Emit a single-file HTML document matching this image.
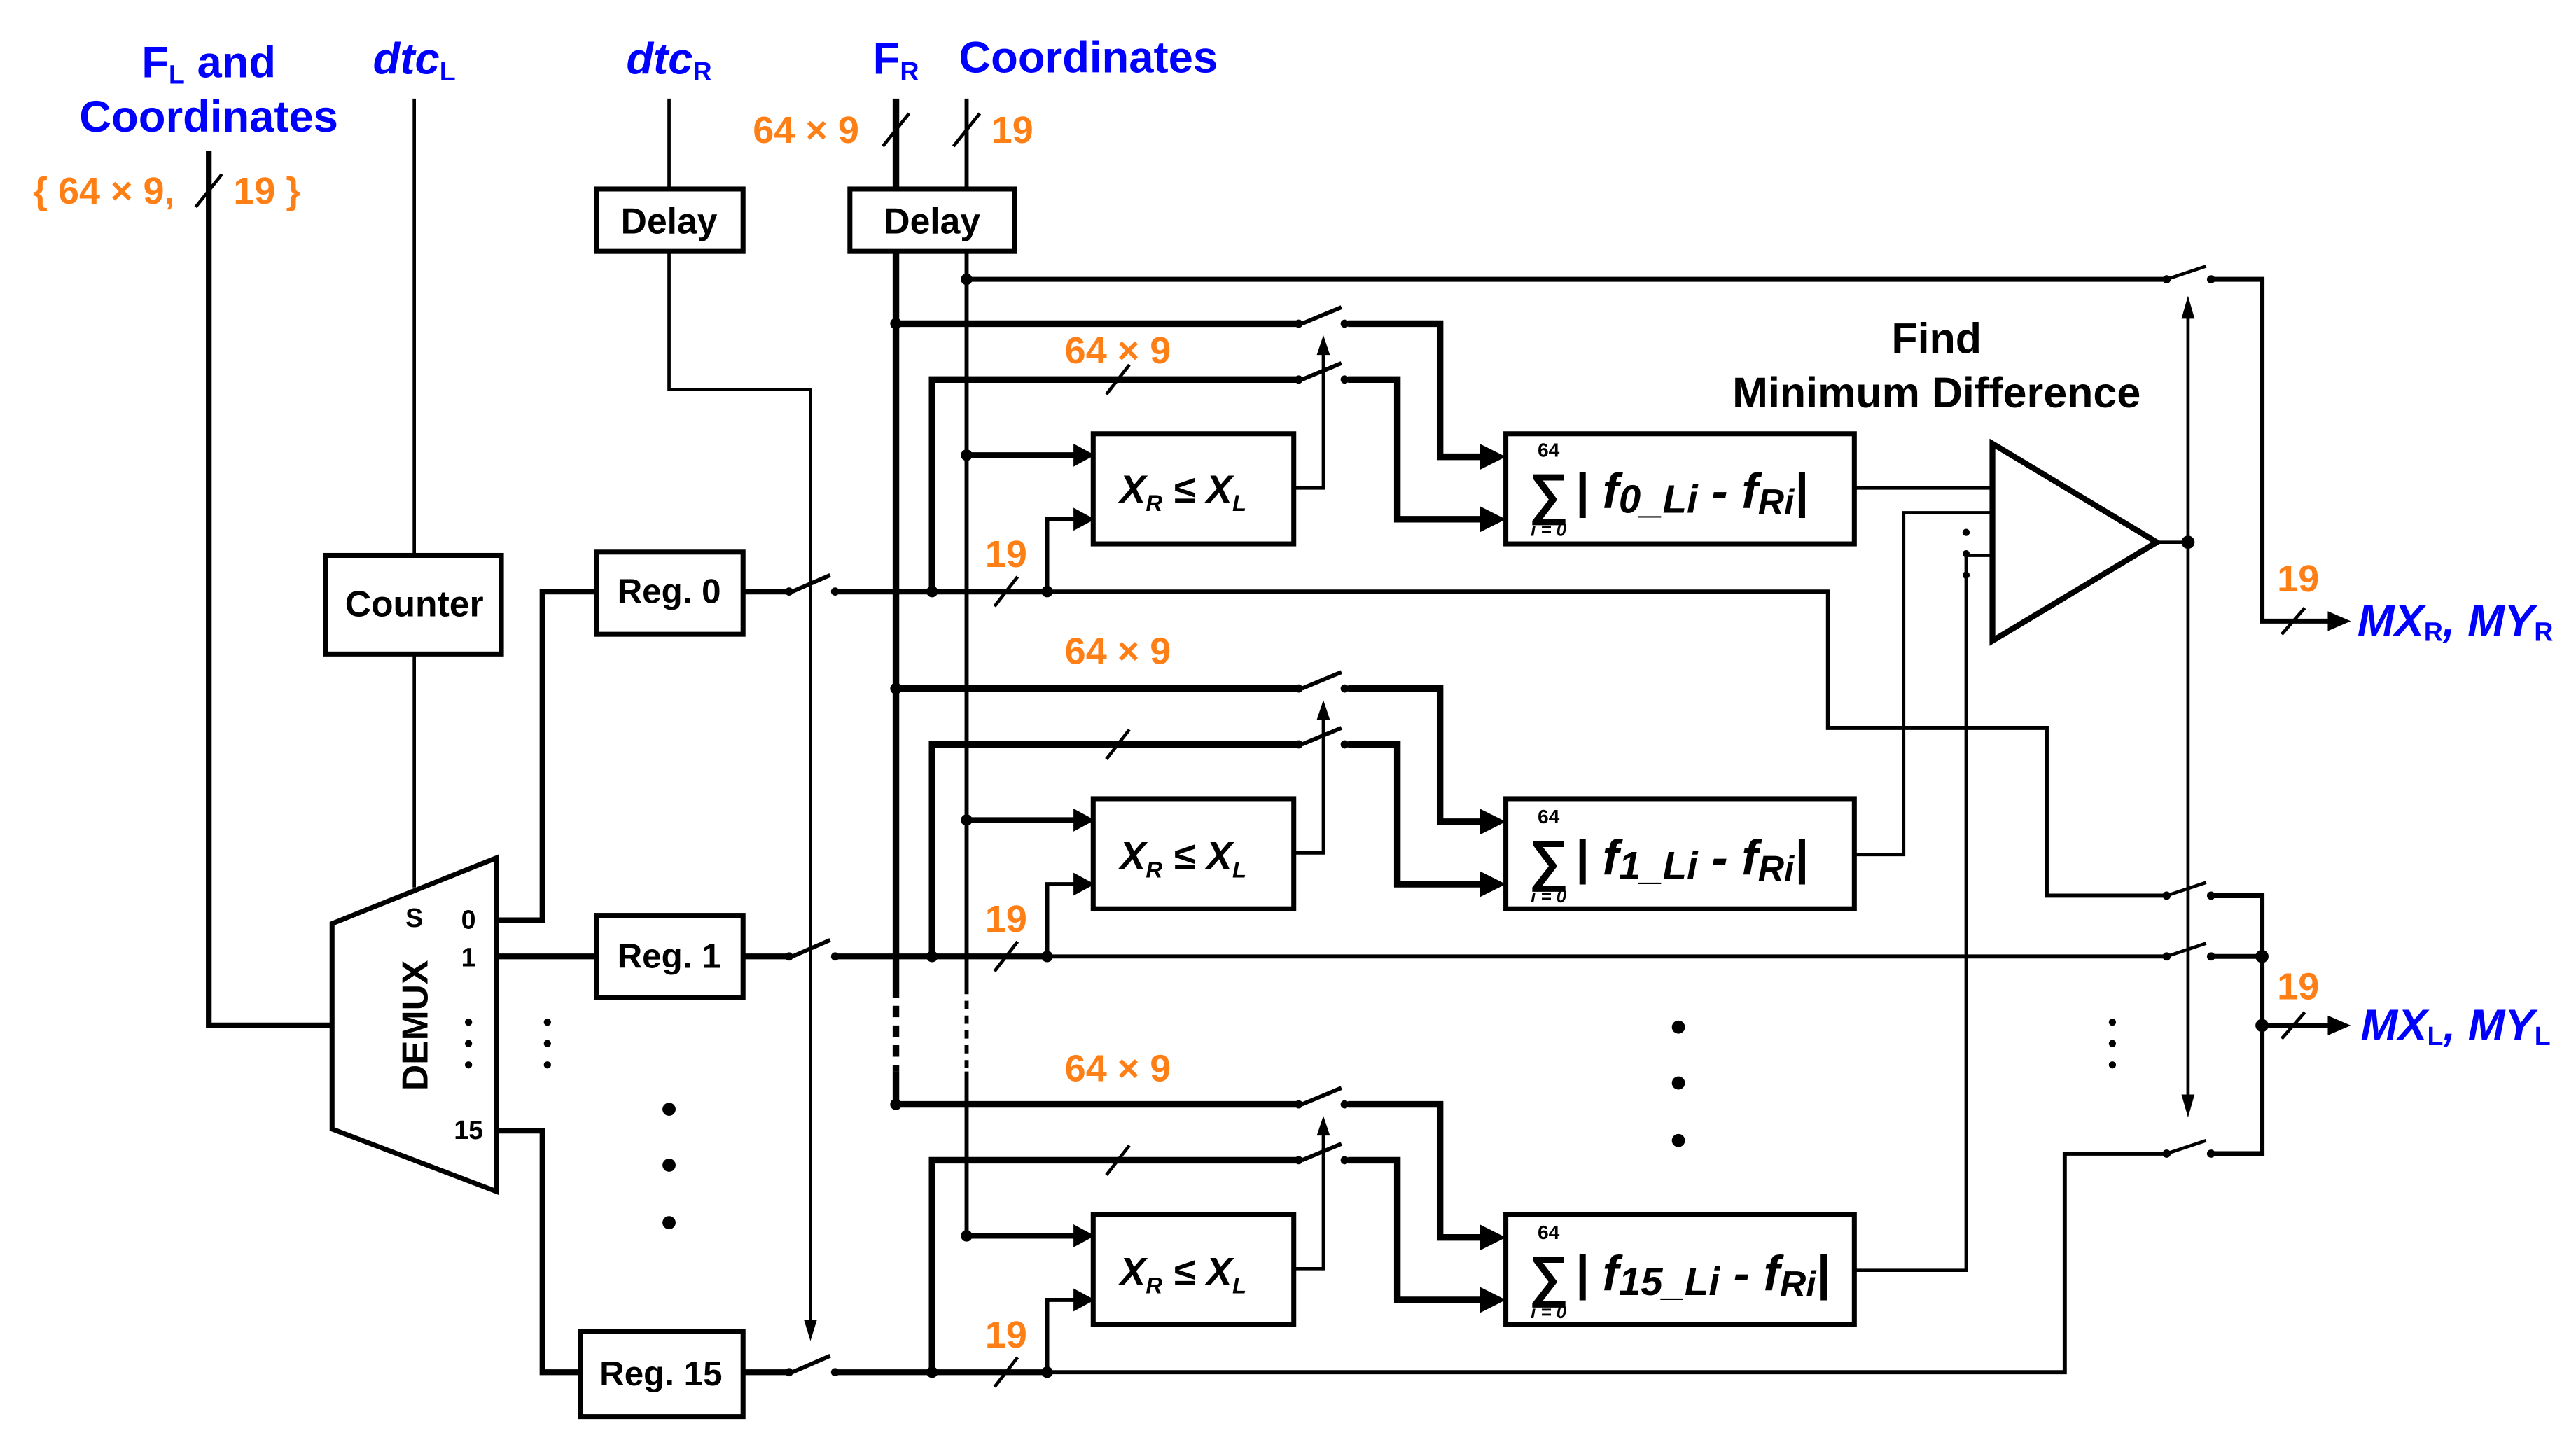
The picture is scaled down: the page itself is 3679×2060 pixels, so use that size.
<!DOCTYPE html>
<html><head><meta charset="utf-8"><style>
html,body{margin:0;padding:0;background:#fff;}
svg{display:block;}
text{font-family:"Liberation Sans",Arial,sans-serif;font-weight:bold;}
.b{fill:#0000ff;}
.o{fill:#ff7f17;}
.k{fill:#000;}
</style></head><body>
<svg width="3679" height="2060" viewBox="0 0 1567 877.5" preserveAspectRatio="none" xmlns="http://www.w3.org/2000/svg">
<defs>
<g id="row" fill="none" stroke="#000">
  <path d="M545,197 H790" stroke-width="4"/>
  <path d="M792,197 L816,187" stroke-width="2.5"/>
  <path d="M820,197 H876 V278 H900" stroke-width="4"/>
  <polygon points="900,270 916,278 900,286" fill="#000" stroke="none"/>
  <path d="M567,360 V231 H790" stroke-width="4"/>
  <path d="M792,231 L816,221" stroke-width="2.5"/>
  <path d="M820,231 H850 V316 H900" stroke-width="4"/>
  <polygon points="900,308 916,316 900,324" fill="#000" stroke="none"/>
  <path d="M673,240 L687,222" stroke-width="2"/>
  <circle cx="545" cy="197" r="3.5" fill="#000" stroke="none"/>
  <circle cx="818" cy="197" r="2.5" fill="#000" stroke="none"/>
  <circle cx="818" cy="231" r="2.5" fill="#000" stroke="none"/>
  <circle cx="790" cy="197" r="2.5" fill="#000" stroke="none"/>
  <circle cx="790" cy="231" r="2.5" fill="#000" stroke="none"/>
  <path d="M588,277 H655" stroke-width="3.5"/>
  <polygon points="653,270 666,277 653,284" fill="#000" stroke="none"/>
  <circle cx="588" cy="277" r="3.5" fill="#000" stroke="none"/>
  <path d="M637,360 V316 H655" stroke-width="2.5"/>
  <polygon points="653,309 666,316 653,323" fill="#000" stroke="none"/>
  <circle cx="637" cy="360" r="3.5" fill="#000" stroke="none"/>
  <circle cx="567" cy="360" r="3.5" fill="#000" stroke="none"/>
  <path d="M605,369 L619,351" stroke-width="2"/>
  <path d="M787,297 H805 V214" stroke-width="2"/>
  <polygon points="801,216 805,204 809,216" fill="#000" stroke="none"/>
  <rect x="665" y="264" width="122" height="67" stroke-width="3" fill="#fff"/>
  <rect x="916" y="264" width="212" height="67" stroke-width="3" fill="#fff"/>
</g>
<g id="sw" fill="none" stroke="#000">
  <circle cx="0" cy="0" r="2.5" fill="#000" stroke="none"/>
  <circle cx="27" cy="0" r="2.5" fill="#000" stroke="none"/>
  <path d="M0,0 L24,-8" stroke-width="2"/>
</g>
</defs>

<text x="127" y="47" font-size="27" text-anchor="middle" class="b">F<tspan font-size="16" dy="4">L</tspan><tspan dy="-4"> and</tspan></text>
<text x="127" y="80" font-size="27" text-anchor="middle" class="b">Coordinates</text>
<text x="252" y="45" font-size="27" text-anchor="middle" class="b" font-style="italic">dtc<tspan font-size="16" dy="4" font-style="normal">L</tspan></text>
<text x="407" y="45" font-size="27" text-anchor="middle" class="b" font-style="italic">dtc<tspan font-size="16" dy="4" font-style="normal">R</tspan></text>
<text x="545" y="45" font-size="27" text-anchor="middle" class="b">F<tspan font-size="16" dy="4">R</tspan></text>
<text x="662" y="44" font-size="27" text-anchor="middle" class="b">Coordinates</text>
<text x="20" y="124" font-size="23" class="o">{ 64 × 9,</text>
<text x="142" y="124" font-size="23" class="o">19 }</text>
<text x="458" y="87" font-size="23" class="o">64 × 9</text>
<text x="603" y="87" font-size="23" class="o">19</text>

<g fill="none" stroke="#000">
<path d="M127,92 V624 H202" stroke-width="3.5"/>
<path d="M119,126 L135,106" stroke-width="2"/>
<path d="M252,60 V338 M252,398 V540" stroke-width="2"/>
<rect x="198" y="338" width="107" height="60" stroke-width="3" fill="#fff"/>
<path d="M407,60 V115 M407,153 V237 H493 V805" stroke-width="2"/>
<polygon points="489,803 493,816 497,803" fill="#000" stroke="none"/>
<rect x="363" y="115" width="89" height="38" stroke-width="3" fill="#fff"/>
<path d="M545,60 V115" stroke-width="4"/>
<path d="M588,60 V115" stroke-width="2.5"/>
<path d="M537,89 L553,69 M580,89 L596,69" stroke-width="2"/>
<rect x="517" y="115" width="100" height="38" stroke-width="3" fill="#fff"/>
<path d="M545,153 V600 M545,652 V672" stroke-width="4"/>
<path d="M545,600 V652" stroke-width="4" stroke-dasharray="7,5"/>
<path d="M588,153 V600 M588,652 V752" stroke-width="2.5"/>
<path d="M588,600 V652" stroke-width="2.5" stroke-dasharray="5,4"/>
<circle cx="588" cy="170" r="3.5" fill="#000" stroke="none"/>
<path d="M588,170 H1318" stroke-width="3"/>

<polygon points="202,562 302,522 302,725 202,687" stroke-width="3" fill="#fff"/>
<path d="M302,560 H330 V360 H363" stroke-width="3.5"/>
<path d="M302,582 H363" stroke-width="3.5"/>
<path d="M302,688 H330 V835 H353" stroke-width="3.5"/>
<rect x="363" y="336" width="89" height="50" stroke-width="3" fill="#fff"/>
<rect x="363" y="557" width="89" height="50" stroke-width="3" fill="#fff"/>
<rect x="353" y="810" width="99" height="52" stroke-width="3" fill="#fff"/>

<path d="M452,360 H480 M452,582 H480 M452,835 H480" stroke-width="3.5"/>
<path d="M482,360 L505,350 M482,582 L505,572 M482,835 L505,825" stroke-width="2.5"/>
<path d="M508,360 H637 M508,582 H637 M508,835 H637" stroke-width="3.5"/>
<path d="M637,360 H1112 V443 H1245 V545 H1318" stroke-width="2.5"/>
<path d="M637,582 H1318" stroke-width="2.5"/>
<path d="M637,835 H1256 V702 H1318" stroke-width="2.5"/>
</g>
<circle cx="480" cy="360" r="2.5"/><circle cx="508" cy="360" r="2.5"/>
<circle cx="480" cy="582" r="2.5"/><circle cx="508" cy="582" r="2.5"/>
<circle cx="480" cy="835" r="2.5"/><circle cx="508" cy="835" r="2.5"/>

<text x="252" y="564" font-size="16" text-anchor="middle" class="k">S</text>
<text x="285" y="565" font-size="16" text-anchor="middle" class="k">0</text>
<text x="285" y="588" font-size="16" text-anchor="middle" class="k">1</text>
<text x="285" y="693" font-size="16" text-anchor="middle" class="k">15</text>
<text transform="translate(260,624) rotate(-90)" font-size="22" text-anchor="middle" class="k">DEMUX</text>
<g fill="#000">
<circle cx="285" cy="622" r="2.2"/><circle cx="285" cy="635" r="2.2"/><circle cx="285" cy="648" r="2.2"/>
<circle cx="333" cy="622" r="2.2"/><circle cx="333" cy="635" r="2.2"/><circle cx="333" cy="648" r="2.2"/>
<circle cx="407" cy="675" r="4"/><circle cx="407" cy="709" r="4"/><circle cx="407" cy="744" r="4"/>
<circle cx="1021" cy="625" r="4"/><circle cx="1021" cy="659" r="4"/><circle cx="1021" cy="694" r="4"/>
<circle cx="1285" cy="622" r="2.2"/><circle cx="1285" cy="635" r="2.2"/><circle cx="1285" cy="648" r="2.2"/>
<circle cx="1196" cy="324" r="2.2"/><circle cx="1196" cy="337" r="2.2"/><circle cx="1196" cy="350" r="2.2"/>
</g>
<text x="252" y="375" font-size="22" text-anchor="middle" class="k">Counter</text>
<text x="407" y="142" font-size="22" text-anchor="middle" class="k">Delay</text>
<text x="567" y="142" font-size="22" text-anchor="middle" class="k">Delay</text>
<text x="407" y="367" font-size="21" text-anchor="middle" class="k">Reg. 0</text>
<text x="407" y="589" font-size="21" text-anchor="middle" class="k">Reg. 1</text>
<text x="402" y="843" font-size="21" text-anchor="middle" class="k">Reg. 15</text>

<use href="#row"/>
<use href="#row" y="222"/>
<use href="#row" y="475"/>

<text x="680" y="221" font-size="23" text-anchor="middle" class="o">64 × 9</text>
<text x="680" y="404" font-size="23" text-anchor="middle" class="o">64 × 9</text>
<text x="680" y="658" font-size="23" text-anchor="middle" class="o">64 × 9</text>
<text x="612" y="345" font-size="23" text-anchor="middle" class="o">19</text>
<text x="612" y="567" font-size="23" text-anchor="middle" class="o">19</text>
<text x="612" y="820" font-size="23" text-anchor="middle" class="o">19</text>

<g font-style="italic" font-size="24">
<text x="681" y="306" class="k">X<tspan font-size="14" dy="5">R</tspan><tspan dy="-5"> ≤ X</tspan><tspan font-size="14" dy="5">L</tspan></text>
<text x="681" y="529" class="k">X<tspan font-size="14" dy="5">R</tspan><tspan dy="-5"> ≤ X</tspan><tspan font-size="14" dy="5">L</tspan></text>
<text x="681" y="782" class="k">X<tspan font-size="14" dy="5">R</tspan><tspan dy="-5"> ≤ X</tspan><tspan font-size="14" dy="5">L</tspan></text>
</g>
<g class="k">
<text x="942" y="278" font-size="12" text-anchor="middle" class="k">64</text>
<text x="942" y="312" font-size="34" text-anchor="middle" class="k" font-weight="normal">∑</text>
<text x="942" y="326" font-size="11" text-anchor="middle" class="k" font-style="italic">i = 0</text>
<text x="958" y="309" font-size="30" class="k" font-style="italic">| f<tspan font-size="24" dy="3">0_Li</tspan><tspan dy="-3"> - f</tspan><tspan font-size="22" dy="4">Ri</tspan><tspan dy="-4">|</tspan></text>
<text x="942" y="501" font-size="12" text-anchor="middle" class="k">64</text>
<text x="942" y="535" font-size="34" text-anchor="middle" class="k" font-weight="normal">∑</text>
<text x="942" y="549" font-size="11" text-anchor="middle" class="k" font-style="italic">i = 0</text>
<text x="958" y="532" font-size="30" class="k" font-style="italic">| f<tspan font-size="24" dy="3">1_Li</tspan><tspan dy="-3"> - f</tspan><tspan font-size="22" dy="4">Ri</tspan><tspan dy="-4">|</tspan></text>
<text x="942" y="754" font-size="12" text-anchor="middle" class="k">64</text>
<text x="942" y="788" font-size="34" text-anchor="middle" class="k" font-weight="normal">∑</text>
<text x="942" y="802" font-size="11" text-anchor="middle" class="k" font-style="italic">i = 0</text>
<text x="958" y="785" font-size="30" class="k" font-style="italic">| f<tspan font-size="24" dy="3">15_Li</tspan><tspan dy="-3"> - f</tspan><tspan font-size="22" dy="4">Ri</tspan><tspan dy="-4">|</tspan></text>
</g>

<g fill="none" stroke="#000">
<path d="M1128,297 H1212" stroke-width="2"/>
<path d="M1128,520 H1158 V312 H1212" stroke-width="2"/>
<path d="M1128,773 H1196 V338 H1212" stroke-width="2"/>
<polygon points="1212,270 1312,330 1212,390" stroke-width="3.5" fill="#fff"/>
<path d="M1312,330 H1331" stroke-width="2"/>
<path d="M1331,192 V668" stroke-width="2"/>
<path d="M1345,170 H1376 V378 H1418" stroke-width="3"/>
<path d="M1345,545 H1376 V702 H1345 M1345,582 H1376 M1376,624 H1418" stroke-width="3"/>
<path d="M1388,386 L1402,370 M1388,632 L1402,616" stroke-width="2"/>
</g>
<polygon points="1327,194 1331,180 1335,194" fill="#000"/>
<polygon points="1327,666 1331,680 1335,666" fill="#000"/>
<circle cx="1331" cy="330" r="4"/>
<circle cx="1376" cy="582" r="4"/><circle cx="1376" cy="624" r="4"/>
<polygon points="1416,372 1430,378 1416,384" fill="#000"/>
<polygon points="1416,618 1430,624 1416,630" fill="#000"/>
<use href="#sw" x="1318" y="170"/>
<use href="#sw" x="1318" y="545"/>
<use href="#sw" x="1318" y="582"/>
<use href="#sw" x="1318" y="702"/>
<text x="1178" y="215" font-size="26" text-anchor="middle" class="k">Find</text>
<text x="1178" y="248" font-size="26" text-anchor="middle" class="k">Minimum Difference</text>
<text x="1398" y="360" font-size="23" text-anchor="middle" class="o">19</text>
<text x="1398" y="608" font-size="23" text-anchor="middle" class="o">19</text>
<text x="1434" y="387" font-size="27" class="b" font-style="italic">MX<tspan font-size="16" dy="3" font-style="normal">R</tspan><tspan dy="-3">, MY</tspan><tspan font-size="16" dy="3" font-style="normal">R</tspan></text>
<text x="1436" y="633" font-size="27" class="b" font-style="italic">MX<tspan font-size="16" dy="3" font-style="normal">L</tspan><tspan dy="-3">, MY</tspan><tspan font-size="16" dy="3" font-style="normal">L</tspan></text>
</svg>
</body></html>
